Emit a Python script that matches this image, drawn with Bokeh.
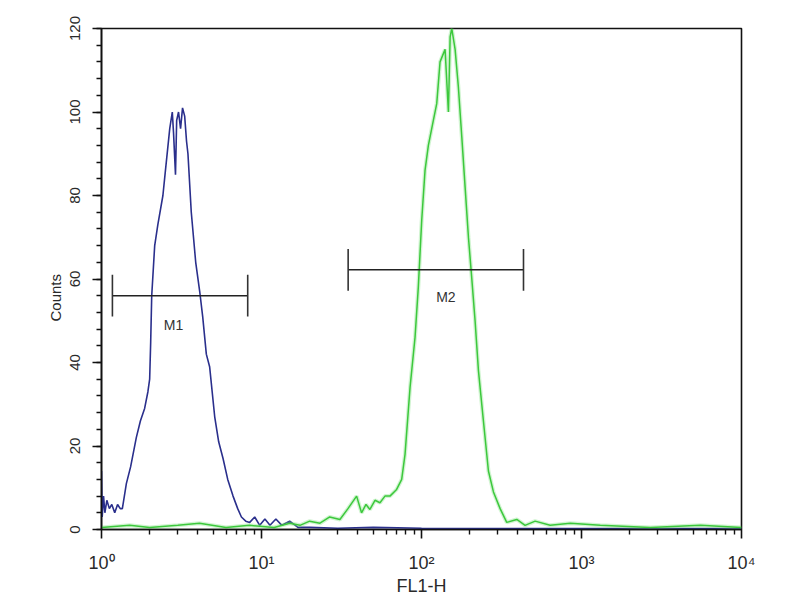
from bokeh.plotting import figure
from bokeh.models import Range1d, FixedTicker, Title
from bokeh.core.properties import value
from bokeh.embed import file_html
from bokeh.resources import INLINE

# ---- data ----
blue_x = [1.00, 1.01, 1.03, 1.05, 1.08, 1.12, 1.16, 1.21, 1.26, 1.31,
          1.35, 1.43, 1.52, 1.65, 1.75, 1.86, 1.95, 2.00, 2.03, 2.06,
          2.15, 2.25, 2.42, 2.51, 2.67, 2.77, 2.82, 2.90, 2.95, 3.03,
          3.12, 3.21, 3.31, 3.40, 3.47, 3.64, 3.88, 4.11, 4.29, 4.52,
          4.74, 5.10, 5.40, 5.75, 6.15, 6.64, 7.10, 7.49, 7.97, 8.44,
          9.07, 9.75, 10.5, 11.3, 12.3, 13.4, 15.0, 16.9, 20.0, 30.0,
          50.0, 100.0, 1000.0, 10000.0]
blue_y = [14, 3, 8, 4, 7, 5, 6, 4, 6, 5,
          5, 11, 15, 22, 26, 29, 33, 36, 45, 56,
          68, 73, 80, 86, 96, 100, 95, 85, 98, 100,
          96, 101, 99, 93, 90, 76, 64, 57, 51, 42,
          39, 27, 21, 17, 12, 8, 5, 3, 2, 1.7,
          3, 1, 2.5, 1, 2.5, 1, 2, 0.5, 0.5, 0.3,
          0.5, 0.3, 0.2, 0.2]

green_x = [1.0, 1.5, 2.0, 3.0, 4.1, 6.0, 8.4, 12.0, 15.0, 17.4,
           20.0, 23.2, 26.7, 30.9, 34.7, 39.3, 42.2, 45.0, 47.6, 51.2,
           55.0, 59.1, 63.5, 69.9, 75.2, 78.9, 84.8, 91.1, 95.5, 100.3,
           105.2, 110.4, 118.6, 124.5, 130.6, 140.4, 147.3, 151.0, 154.6, 162.2,
           170.0, 178.6, 187.3, 196.5, 206.3, 216.2, 227.0, 243.8, 262.0, 281.6,
           310.0, 341.0, 394.0, 444.0, 513.0, 637.0, 851.0, 1310.0, 2690.0, 5540.0,
           10000.0]
green_y = [0.5, 1, 0.5, 1, 1.5, 0.5, 1, 0.5, 1.5, 1,
           2, 1.5, 3, 2.4, 5, 8, 4, 6, 4.8, 7,
           6.4, 8, 8, 9.6, 12, 18, 34, 46, 58, 74,
           86, 92, 98, 102, 112, 115, 100, 118, 120, 115,
           106, 94, 82, 70, 60, 50, 38, 26, 14, 9,
           5, 1.7, 2.4, 1, 2, 1, 1.5, 1, 0.5, 1,
           0.5]

gate_names = ["M1", "M2"]
gate_lo = [1.17, 34.8]
gate_hi = [8.2, 434.0]
gate_level = [56.0, 62.2]
gate_label_x = [2.82, 142.0]
gate_label_y = [49.0, 55.7]

x_major = [1, 10, 100, 1000, 10000]
x_labels = ["10\u2070", "10\u00b9", "10\u00b2", "10\u00b3", "10\u2074"]
y_major = [0, 20, 40, 60, 80, 100, 120]

FONT = "Liberation Sans"
TEXT_COLOR = "#2a2a2a"

p = figure(width=784, height=598, x_axis_type="log",
           x_range=Range1d(1, 10000), y_range=Range1d(0, 120),
           output_backend="svg", toolbar_location=None,
           min_border_left=101, min_border_right=43,
           min_border_top=28, min_border_bottom=68)
p.background_fill_color = "white"
p.border_fill_color = "white"
p.xgrid.visible = False
p.ygrid.visible = False
p.outline_line_color = "#111111"
p.outline_line_width = 1.6

# axes
x_minor = [k * 10 ** d for d in range(4) for k in range(2, 10)]
p.xaxis.ticker = FixedTicker(ticks=x_major, minor_ticks=x_minor)
p.xaxis.major_label_overrides = {t: lab for t, lab in zip(x_major, x_labels)}
y_minor = list(range(0, 121, 4))
p.yaxis.ticker = FixedTicker(ticks=y_major, minor_ticks=y_minor)
p.yaxis.major_label_orientation = "vertical"

for ax in (p.xaxis[0], p.yaxis[0]):
    ax.axis_line_color = "#111111"
    ax.axis_line_width = 1.6
    ax.major_tick_line_color = "#111111"
    ax.minor_tick_line_color = "#111111"
    ax.major_tick_line_width = 1.6
    ax.minor_tick_line_width = 1.4
    ax.major_tick_in = 0
    ax.major_tick_out = 9
    ax.minor_tick_in = 0
    ax.minor_tick_out = 5
    ax.major_label_text_font = FONT
    ax.major_label_text_color = TEXT_COLOR
    ax.axis_label_text_font = FONT
    ax.axis_label_text_font_style = "normal"
    ax.axis_label_text_color = TEXT_COLOR

p.xaxis.major_label_text_font_size = "18px"
p.xaxis.major_label_standoff = 14
p.xaxis.axis_label = "FL1-H"
p.xaxis.axis_label_text_font_size = "18px"
p.xaxis.axis_label_standoff = 0

p.yaxis.major_label_text_font_size = "15px"
p.yaxis.major_label_standoff = 13

# y axis title on the left, placed a little below the middle as in the source
p.add_layout(Title(text="Counts", align="left", offset=208, standoff=6,
                   text_font=FONT, text_font_size="15px",
                   text_font_style="normal", text_color=TEXT_COLOR), "left")

# histograms
p.line(blue_x, blue_y, line_color="#2a2f8c", line_width=1.6)
p.line(green_x, green_y, line_color="#7be07b", line_width=4, line_alpha=0.35)
p.line(green_x, green_y, line_color="#3cc83c", line_width=1.5)

# gates
cap = 5.0
p.segment(x0=gate_lo, y0=gate_level, x1=gate_hi, y1=gate_level,
          line_color="#222222", line_width=1.6)
p.segment(x0=gate_lo, y0=[v - cap for v in gate_level],
          x1=gate_lo, y1=[v + cap for v in gate_level],
          line_color="#333333", line_width=1.6)
p.segment(x0=gate_hi, y0=[v - cap for v in gate_level],
          x1=gate_hi, y1=[v + cap for v in gate_level],
          line_color="#333333", line_width=1.6)
p.text(x=gate_label_x, y=gate_label_y, text=gate_names,
       text_align="center", text_baseline="middle",
       text_font=value(FONT), text_font_size="14px", text_color="#333333")

open("out.html", "w").write(file_html(p, INLINE))
